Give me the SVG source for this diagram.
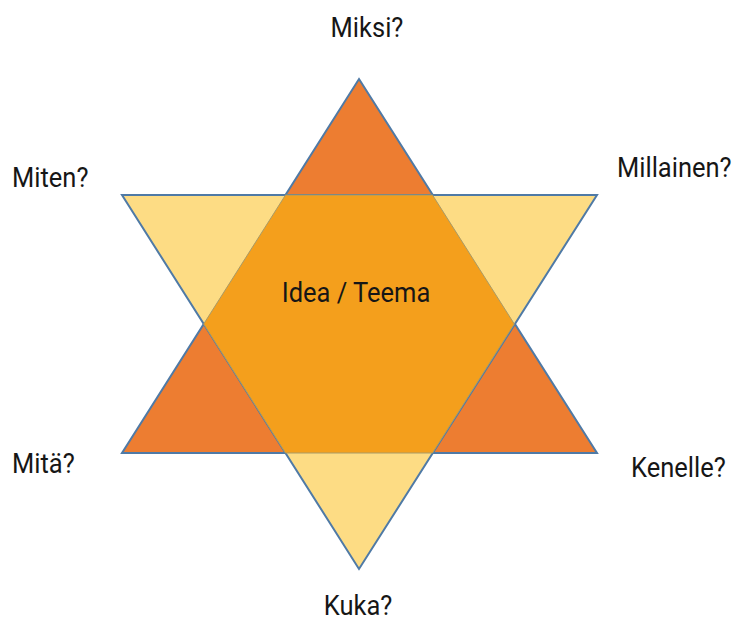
<svg xmlns="http://www.w3.org/2000/svg" width="740" height="624" viewBox="0 0 740 624">
  <style>
    .lbl { font-family: Roboto, "Liberation Sans", Arial, sans-serif; font-size: 25.5px; fill: #161616; }
    .tri { stroke: #4f7aa6; stroke-width: 2; stroke-linejoin: miter; }
  </style>
  <rect width="740" height="624" fill="#ffffff"/>
  <g id="star">
    <g id="up-triangle">
      <polygon class="tri" points="359,79 597,453 122,453" fill="#ed7d31"/>
    </g>
    <g id="down-triangle">
      <polygon class="tri" points="122,195 597,195 359,569" fill="#fddc84"/>
    </g>
    <g id="center">
      <polygon points="285.5,195 432.5,195 514.3,324 432.5,453 285.5,453 203.7,324" fill="#f49f1c" stroke="#a89a66" stroke-width="1"/>
      <text class="lbl" transform="translate(356,302) scale(1,1.1)" text-anchor="middle">Idea / Teema</text>
    </g>
  </g>
  <g id="labels">
    <text id="miksi" class="lbl" transform="translate(367,37) scale(1,1.1)" text-anchor="middle">Miksi?</text>
    <text id="miten" class="lbl" transform="translate(12,187) scale(1,1.1)">Miten?</text>
    <text id="millainen" class="lbl" transform="translate(617,177) scale(1,1.1)">Millainen?</text>
    <text id="mita" class="lbl" transform="translate(12,473) scale(1,1.1)">Mitä?</text>
    <text id="kenelle" class="lbl" transform="translate(631,477) scale(1,1.1)">Kenelle?</text>
    <text id="kuka" class="lbl" transform="translate(358,615) scale(1,1.1)" text-anchor="middle">Kuka?</text>
  </g>
</svg>
